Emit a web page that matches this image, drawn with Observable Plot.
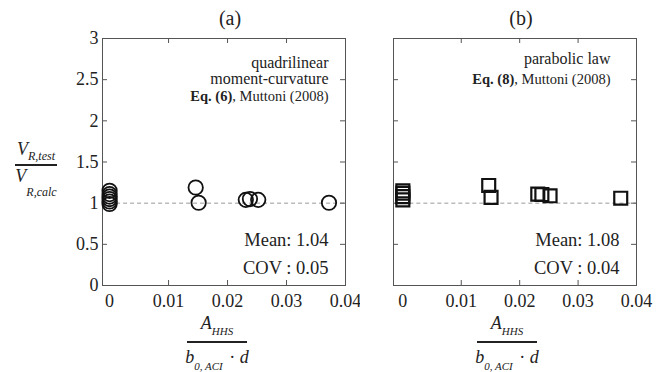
<!DOCTYPE html>
<html>
<head>
<meta charset="utf-8">
<script src="https://cdn.jsdelivr.net/npm/d3@7"></script>
<script src="https://cdn.jsdelivr.net/npm/@observablehq/plot@0.6"></script>
<style>
  html, body { margin: 0; padding: 0; background: #fff; }
  #wrap { position: relative; width: 665px; height: 372px; overflow: hidden; }
  #wrap > svg { position: absolute; top: 0; }
  #wrap svg, #wrap svg text { font-family: "Liberation Serif", Tinos, "Times New Roman", "DejaVu Serif", serif !important; }
</style>
</head>
<body>
<div id="wrap"></div>
<script>
// ---- data ----
const circleX = [0, 0, 0, 0, 0, 0, 0.0146, 0.0151, 0.0231, 0.0238, 0.0252, 0.0372];
const circleY = [0.99, 1.02, 1.05, 1.08, 1.11, 1.15, 1.19, 1.005, 1.04, 1.05, 1.04, 1.005];
const squareX = [0, 0, 0, 0, 0.0147, 0.0151, 0.0231, 0.0238, 0.0252, 0.0373];
const squareY = [1.04, 1.08, 1.12, 1.15, 1.215, 1.07, 1.11, 1.105, 1.09, 1.06];
const xTickLabels = [0, 0.01, 0.02, 0.03, 0.04];
const xInnerTicks = [0.01, 0.02, 0.03];
const yTickLabels = [0, 0.5, 1, 1.5, 2, 2.5, 3];
const yInnerTicks = [0.5, 1, 1.5, 2, 2.5];
const panelTitles = ["(a)", "(b)"];
const modelLines = [["quadrilinear", "moment-curvature"], ["parabolic law"]];
const eqBold = ["Eq. (6)", "Eq. (8)"];
const eqRest = ", Muttoni (2008)";
const meanVals = ["Mean: 1.04", "Mean: 1.08"];
const covVals = ["COV : 0.05", "COV : 0.04"];
const refLine = [1];

const FONT = '"Liberation Serif", Tinos, "Times New Roman", "DejaVu Serif", serif';
const H = 372, MT = 38, MB = 87;
const innerH = H - MT - MB;

function measure(text, font) {
  const c = document.createElement("canvas").getContext("2d");
  c.font = font;
  return c.measureText(text).width;
}

function panel(i, opts) {
  const {width, ml, mr, xDomain, xs, ys, symbol, r, sw, showY, titleDx, modelDx, modelDys, eqDy, statDx} = opts;
  const innerW = width - ml - mr;
  const data = xs.map((x, k) => ({x, y: ys[k]}));
  const eqFont = 14.5;
  const restW = measure(eqRest, `${eqFont}px ${FONT}`);
  const ink = "#555";
  const marks = [
    Plot.frame({stroke: ink, strokeWidth: 1}),
    Plot.ruleY(refLine, {x1: 0, x2: xDomain[1], stroke: "#9a9a9a", strokeDasharray: "4,3", strokeWidth: 1}),
    Plot.tickX(xInnerTicks, {x: d => d, insetTop: innerH - 5, stroke: ink}),
    Plot.tickX(xInnerTicks, {x: d => d, insetBottom: innerH - 5, stroke: ink}),
    Plot.tickY(yInnerTicks, {y: d => d, insetRight: innerW - 5, stroke: ink}),
    Plot.tickY(yInnerTicks, {y: d => d, insetLeft: innerW - 5, stroke: ink}),
    Plot.axisX(xTickLabels, {tickSize: 0, tickPadding: 9, fontSize: 18, tickFormat: d => String(d), label: null}),
    showY ? Plot.axisY(yTickLabels, {tickSize: 0, tickPadding: 4, fontSize: 18, tickFormat: d => String(d), label: null}) : null,
    Plot.dot(data, {x: "x", y: "y", r, symbol, stroke: "#111", strokeWidth: sw, fill: "none"}),
    Plot.text([panelTitles[i]], {text: d => d, frameAnchor: "top", lineAnchor: "bottom", dx: titleDx, dy: -14, fontSize: 20}),
    ...modelLines[i].map((t, k) => Plot.text([t], {text: d => d, frameAnchor: "top-right", textAnchor: "end", lineAnchor: "bottom", dx: modelDx, dy: modelDys[k], fontSize: 16})),
    Plot.text([eqRest], {text: d => d, frameAnchor: "top-right", textAnchor: "end", lineAnchor: "bottom", dx: modelDx, dy: eqDy, fontSize: eqFont}),
    Plot.text([eqBold[i]], {text: d => d, frameAnchor: "top-right", textAnchor: "end", lineAnchor: "bottom", dx: modelDx - restW, dy: eqDy, fontSize: eqFont, fontWeight: "bold"}),
    Plot.text([meanVals[i]], {text: d => d, frameAnchor: "bottom-right", textAnchor: "end", lineAnchor: "bottom", dx: statDx, dy: -40, fontSize: 18.5}),
    Plot.text([covVals[i]], {text: d => d, frameAnchor: "bottom-right", textAnchor: "end", lineAnchor: "bottom", dx: statDx, dy: -12, fontSize: 18.5})
  ].filter(Boolean);
  return Plot.plot({
    width, height: H,
    marginTop: MT, marginBottom: MB, marginLeft: ml, marginRight: mr,
    x: {domain: xDomain, axis: null},
    y: {domain: [0, 3], axis: null},
    style: {fontFamily: FONT, fontSize: "18px", color: "#222", background: "transparent"},
    marks
  });
}

const wrap = document.getElementById("wrap");
const left = panel(0, {
  width: 360, ml: 102, mr: 15, xDomain: [-0.0012, 0.04], xs: circleX, ys: circleY,
  symbol: "circle", r: 7.2, sw: 1.8, showY: true, titleDx: 6,
  modelDx: -17, modelDys: [29, 45], eqDy: 62, statDx: -17
});
left.style.left = "0px";
wrap.appendChild(left);

const right = panel(1, {
  width: 305, ml: 33, mr: 29, xDomain: [-0.0016, 0.04], xs: squareX, ys: squareY,
  symbol: "square", r: 7.3, sw: 2.2, showY: false, titleDx: 6,
  modelDx: -26, modelDys: [25], eqDy: 45, statDx: -17
});
right.style.left = "360px";
wrap.appendChild(right);

// ---- fraction axis labels ----
const ov = d3.create("svg").attr("width", 665).attr("height", 372)
  .style("position", "absolute").style("left", "0px").style("top", "0px")
  .attr("fill", "#222").attr("font-style", "italic");

function frac(cx, yLine, lineW, num, den, numY, denY, numSub, denSub, extra) {
  const g = ov.append("g");
  const t1 = g.append("text").attr("x", cx).attr("y", numY).attr("text-anchor", "middle").attr("font-size", 18);
  t1.append("tspan").text(num[0]);
  t1.append("tspan").attr("font-size", numSub.size).attr("dy", numSub.dy).text(num[1]);
  g.append("line").attr("x1", cx - lineW / 2).attr("x2", cx + lineW / 2)
    .attr("y1", yLine).attr("y2", yLine).attr("stroke", "#222").attr("stroke-width", 1.8);
  const t2 = g.append("text").attr("x", cx).attr("y", denY).attr("text-anchor", "middle").attr("font-size", 18);
  t2.append("tspan").text(den[0]);
  t2.append("tspan").attr("font-size", denSub.size).attr("dy", denSub.dy).text(den[1]);
  if (extra) {
    t2.append("tspan").attr("font-style", "normal").attr("dy", -denSub.dy).attr("dx", 2).text(" \u00b7 ");
    t2.append("tspan").text(extra);
  }
}

const yLab = ["V", "R,test"], yLabDen = ["V", "R,calc"];
frac(36, 165, 42, yLab, yLabDen, 155, 182, {size: 12, dy: 5}, {size: 12, dy: 14});

const xLabNum = ["A", "HHS"], xLabDen = ["b", "0, ACI"], xLabD = "d";
[217, 507].forEach(cx => frac(cx, 342, 60, xLabNum, xLabDen, 329, 363, {size: 11, dy: 6}, {size: 11, dy: 7}, xLabD));

wrap.appendChild(ov.node());
</script>
</body>
</html>
